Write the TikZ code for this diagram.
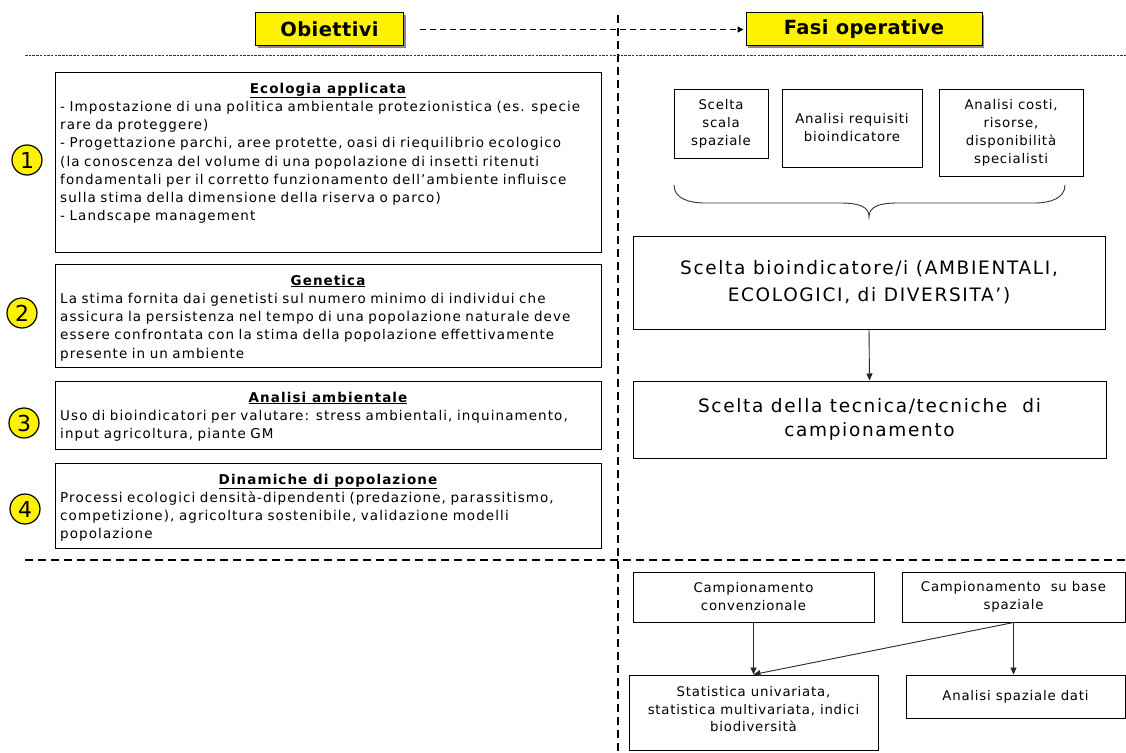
\documentclass[tikz,border=0pt]{standalone}
\usepackage{fontspec}
\setmainfont{DejaVu Sans}[LetterSpace=6]
\newfontfamily\bodyfont{DejaVu Sans}[LetterSpace=8]
\newfontfamily\hdrfont{DejaVu Sans}[LetterSpace=2]
\newfontfamily\bigfont{DejaVu Sans}[LetterSpace=9]
\usetikzlibrary{arrows.meta,shadows}
\begin{document}
\begin{tikzpicture}[x=1pt,y=-1pt,
  box/.style={draw=black, line width=1pt, inner sep=0pt},
  hdr/.style={draw=black, line width=1pt, fill=yellow, inner sep=0pt,
    font=\hdrfont\bfseries\fontsize{19.5}{20}\selectfont,
    drop shadow={shadow xshift=2pt, shadow yshift=-2pt, fill=black!45, opacity=1}},
  ttl/.style={anchor=base, inner sep=0pt, font=\bodyfont\bfseries\fontsize{13.5}{18}\selectfont},
  body/.style={anchor=base west, inner sep=0pt, text width=545pt, align=left,
    font=\bodyfont\fontsize{13.5}{18.2}\selectfont},
  num/.style={circle, draw=black, line width=1.2pt, fill=yellow, minimum size=30pt,
    inner sep=0pt, font=\fontsize{22}{22}\selectfont},
  sbox/.style={box, align=center, font=\fontsize{13.3}{18}\selectfont},
  bigbox/.style={box, align=center},
  arr/.style={draw=black!85, line width=0.9pt, -{Triangle[length=7pt,width=6pt]}},
  dasharr/.style={line width=1.7pt, dash pattern=on 6pt off 4pt, -{Triangle[length=6pt,width=6pt]}},
  sep/.style={line width=1.6pt, dash pattern=on 8pt off 5pt},
  dotsep/.style={line width=0.8pt, dash pattern=on 2.5pt off 1.2pt, draw=black!80}
]
\useasboundingbox (0,0) rectangle (1126,752);
\fill[white] (0,0) rectangle (1126,752);

% separators
\coordinate (vt) at (618,15);
\coordinate (vb) at (618,752);
\coordinate (h1l) at (25,55);
\coordinate (h1r) at (1126,55);
\coordinate (h2l) at (25,560);
\coordinate (h2r) at (1126,560);
\draw[sep] (vt) -- (vb);
\draw[dotsep] (h1l) -- (h1r);
\draw[sep] (h2l) -- (h2r);

% headers
\node[hdr, minimum width=148pt, minimum height=33pt] (obj) at (329.5,29.5) {Obiettivi};
\node[hdr, minimum width=236pt, minimum height=33pt] (fasi) at (864,29.5) {Fasi operative};
\draw[dasharr] ([xshift=16pt]obj.east) -- ([xshift=-2pt]fasi.west);

% left boxes
\node[box, minimum width=546pt, minimum height=180pt] (b1) at (328,162) {};
\node[ttl] (t1) at (328,93) {\underline{Ecologia applicata}};
\node[body] (x1) at (60,111.5) {- Impostazione di una politica ambientale protezionistica (es. specie\\
rare da proteggere)\\
- Progettazione parchi, aree protette, oasi di riequilibrio ecologico\\
(la conoscenza del volume di una popolazione di insetti ritenuti\\
fondamentali per il corretto funzionamento dell’ambiente influisce\\
sulla stima della dimensione della riserva o parco)\\
- Landscape management};
\node[num] (n1) at (27,160) {1};

\node[box, minimum width=546pt, minimum height=103pt] (b2) at (328,315.5) {};
\node[ttl] (t2) at (328,285) {\underline{Genetica}};
\node[body] (x2) at (60,303.5) {La stima fornita dai genetisti sul numero minimo di individui che\\
assicura la persistenza nel tempo di una popolazione naturale deve\\
essere confrontata con la stima della popolazione effettivamente\\
presente in un ambiente};
\node[num] (n2) at (22,313) {2};

\node[box, minimum width=546pt, minimum height=68pt] (b3) at (328,415) {};
\node[ttl] (t3) at (328,402) {\underline{Analisi ambientale}};
\node[body] (x3) at (60,420.5) {Uso di bioindicatori per valutare: stress ambientali, inquinamento,\\
input agricoltura, piante GM};
\node[num] (n3) at (24,423) {3};

\node[box, minimum width=546pt, minimum height=85pt] (b4) at (328,505.5) {};
\node[ttl] (t4) at (328,484) {\underline{Dinamiche di popolazione}};
\node[body] (x4) at (60,502.5) {Processi ecologici densità-dipendenti (predazione, parassitismo,\\
competizione), agricoltura sostenibile, validazione modelli\\
popolazione};
\node[num] (n4) at (25,509) {4};

% right top
\node[sbox, minimum width=94pt, minimum height=69pt] (sa) at (721,123.5) {Scelta\\scala\\spaziale};
\node[sbox, minimum width=140pt, minimum height=78pt] (sb) at (852,128) {Analisi requisiti\\bioindicatore};
\node[sbox, minimum width=144pt, minimum height=87pt] (sc) at (1011,132.5) {Analisi costi,\\risorse,\\disponibilità\\specialisti};

\coordinate (brl) at (674,185);
\coordinate (brr) at (1065,185);
\coordinate (brt) at (869,217);
\draw[line width=0.9pt, black!80] (brl) .. controls (674,198) and (688,203) .. (705,203)
  -- (840,203) .. controls (860,203) and (869,207) .. (brt)
  .. controls (869,207) and (878,203) .. (898,203)
  -- (1034,203) .. controls (1051,203) and (1065,198) .. (brr);

\node[bigbox, minimum width=472pt, minimum height=93pt, font=\bigfont\fontsize{18.5}{27}\selectfont] (big) at (869,282.5)
  {Scelta bioindicatore/i (AMBIENTALI,\\ECOLOGICI, di DIVERSITA’)};
\node[bigbox, minimum width=473pt, minimum height=77pt, font=\bigfont\fontsize{18.5}{24}\selectfont] (tec) at (869.5,419.5)
  {Scelta della tecnica/tecniche\ \ di\\campionamento};
\draw[arr] (big.south) -- (tec.north);

% right bottom
\node[sbox, minimum width=241pt, minimum height=50pt] (conv) at (753.5,597) {Campionamento\\convenzionale};
\node[sbox, minimum width=223pt, minimum height=50pt] (spaz) at (1013.5,597) {Campionamento\ \ su base\\spaziale};
\node[box, minimum width=249pt, minimum height=75pt] (stat) at (753.5,712.5) {};
\node[align=center, inner sep=0pt, font=\fontsize{13.3}{17.5}\selectfont] (statx) at (753.5,709.5)
  {Statistica univariata,\\statistica multivariata, indici\\biodiversità};
\node[sbox, minimum width=219pt, minimum height=43pt] (an) at (1015.5,696.5) {Analisi spaziale dati};

\draw[arr] (conv.south) -- (stat.north);
\draw[arr] (spaz.south) -- (stat.north);
\draw[arr] (spaz.south) -- (spaz.south |- an.north);
\end{tikzpicture}
\end{document}
